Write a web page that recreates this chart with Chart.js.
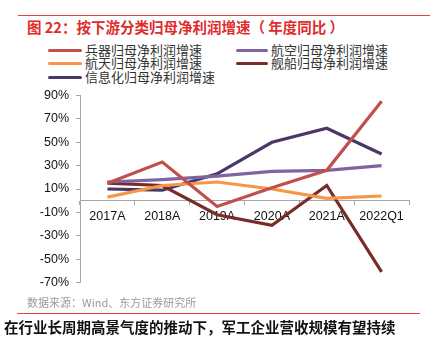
<!DOCTYPE html>
<html>
<head>
<meta charset="utf-8">
<script src="https://cdn.jsdelivr.net/npm/chart.js@4/dist/chart.umd.min.js"></script>
<style>
  html, body { margin: 0; padding: 0; background: #fff; }
  body { width: 434px; height: 344px; position: relative; overflow: hidden;
         font-family: "Noto Sans CJK SC", "Liberation Sans", sans-serif; }
  .rule { position: absolute; height: 1px; background: #E8413B; }
  #title { position: absolute; left: 27px; top: 17px; font-size: 14.5px; font-weight: bold;
           color: #E02B2B; white-space: nowrap; line-height: 20px; }
  #legend { position: absolute; left: 0; top: 0; }
  .item { position: absolute; font-size: 13px; color: #333; white-space: nowrap; line-height: 14px; }
  .swatch { position: absolute; height: 3px; border-radius: 2px; }
  #src { position: absolute; left: 27px; top: 295px; font-size: 11px; color: #9A9A9A; white-space: nowrap; line-height: 14px; }
  #foot { position: absolute; left: 4px; top: 317px; font-size: 14.5px; font-weight: bold; color: #111;
          white-space: nowrap; line-height: 20px; }
  #wrap { position: absolute; left: 0; top: 81px; width: 434px; height: 216px; }
</style>
</head>
<body>
<div class="rule" style="left:18px; top:15px; width:412px;"></div>
<div id="title">图 22：按下游分类归母净利润增速（ 年度同比 ）</div>
<div id="legend"></div>
<div id="wrap"><canvas id="c"></canvas></div>
<div id="src">数据来源：Wind、东方证券研究所</div>
<div class="rule" style="left:17px; top:313px; width:403px;"></div>
<div id="foot">在行业长周期高景气度的推动下，军工企业营收规模有望持续</div>
<script>
// Periods on the category axis
const categories = ['2017A', '2018A', '2019A', '2020A', '2021A', '2022Q1'];

// Year-on-year growth of attributable net profit, by downstream segment (%)
const weaponry   = [15, 33, -5, 11, 26, 85];
const aviation   = [16, 18, 21, 25, 26, 30];
const aerospace  = [3, 13, 16, 10, 2, 4];
const shipbuild  = [15, 13, -12, -21, 13, -61];
const infoTech   = [10, 9, 23, 50, 62, 40];

// Value-axis tick labels (%)
const yTicks = [90, 70, 50, 30, 10, -10, -30, -50, -70];

const seriesNames = ['兵器归母净利润增速', '航空归母净利润增速', '航天归母净利润增速', '舰船归母净利润增速', '信息化归母净利润增速'];
const seriesData  = [weaponry, aviation, aerospace, shipbuild, infoTech];
const seriesColor = ['#C0504D', '#8064A2', '#F79646', '#772C2A', '#4A3768'];

// Legend: two columns, three rows
const legendPos = [
  { lx: 48, tx: 85, y: 50 }, { lx: 236, tx: 271, y: 50 },
  { lx: 48, tx: 85, y: 63 }, { lx: 236, tx: 271, y: 63 },
  { lx: 48, tx: 85, y: 77 }
];
const legend = document.getElementById('legend');
seriesNames.forEach((name, i) => {
  const p = legendPos[i];
  const sw = document.createElement('div');
  sw.className = 'swatch';
  sw.style.cssText = `left:${p.lx}px; top:${p.y - 1}px; width:${p.tx - p.lx - 3}px; background:${seriesColor[i]};`;
  legend.appendChild(sw);
  const t = document.createElement('div');
  t.className = 'item';
  t.style.cssText = `left:${p.tx}px; top:${p.y - 7}px;`;
  t.textContent = name;
  legend.appendChild(t);
});

const axisColor = '#A6A6A6';
const tickFont = { family: '"Liberation Sans", Arial, sans-serif', size: 12.5 };

new Chart(document.getElementById('c'), {
  type: 'line',
  data: {
    labels: categories,
    datasets: seriesNames.map((name, i) => ({
      label: name,
      data: seriesData[i],
      borderColor: seriesColor[i],
      backgroundColor: seriesColor[i],
      borderWidth: 3.2,
      pointRadius: 0,
      tension: 0,
      borderJoinStyle: 'miter'
    }))
  },
  options: {
    responsive: true,
    maintainAspectRatio: false,
    animation: false,
    events: [],
    layout: { padding: { top: 9, right: 25, bottom: 9, left: 0 } },
    plugins: { legend: { display: false }, tooltip: { enabled: false } },
    scales: {
      x: {
        type: 'category',
        position: { y: 0 },
        offset: true,
        grid: { drawOnChartArea: false, drawTicks: true, tickLength: 4, color: axisColor, offset: true },
        border: { color: axisColor, width: 1 },
        ticks: { color: '#111', font: tickFont, padding: 4, maxRotation: 0, autoSkip: false }
      },
      y: {
        min: -70, max: 90,
        afterBuildTicks: (axis) => { axis.ticks = yTicks.map(v => ({ value: v })); },
        afterFit: (axis) => { axis.width = 80; },
        grid: { drawOnChartArea: false, drawTicks: true, tickLength: 4, color: axisColor },
        border: { color: axisColor, width: 1 },
        ticks: { color: '#111', font: tickFont, padding: 7, callback: v => v + '%' }
      }
    }
  }
});
</script>
</body>
</html>
